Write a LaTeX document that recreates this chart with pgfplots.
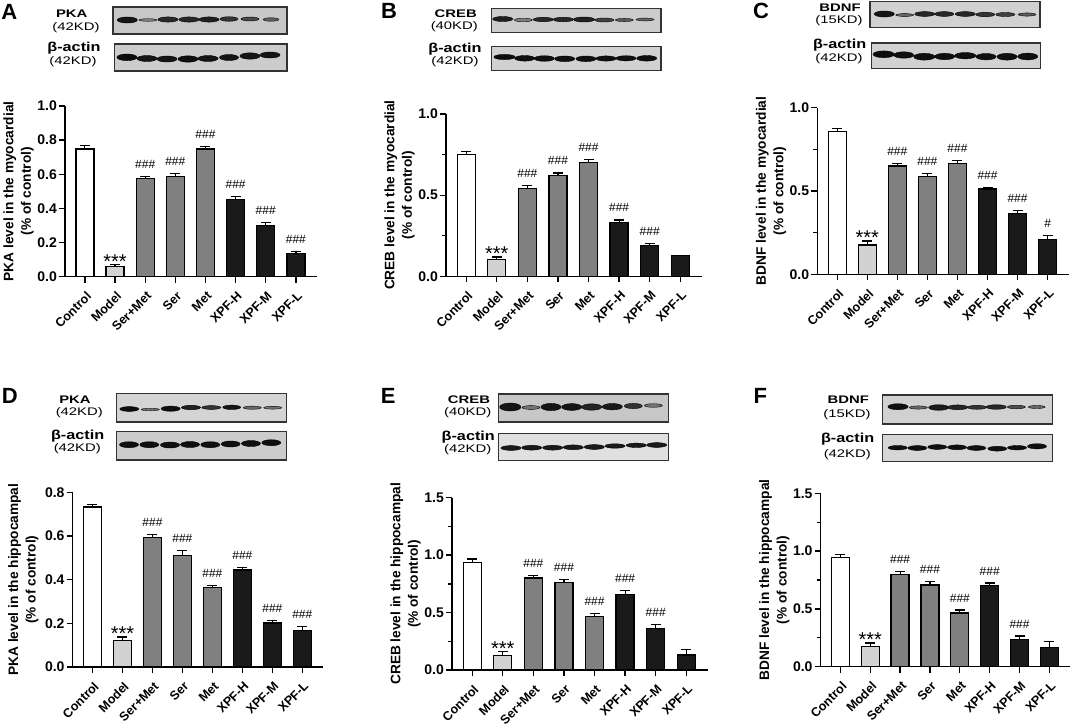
\documentclass[border=0pt]{standalone}
\usepackage{fontspec}
\setmainfont{Liberation Sans}
\usepackage{pgfplots}
\usepackage{pgfplotstable}
\pgfplotsset{compat=1.18}

\definecolor{lgray}{HTML}{D2D2D2}
\definecolor{mgray}{HTML}{808080}
\definecolor{dgray}{HTML}{1A1A1A}

% significance labels, picked by the lab column
\def\labN{}
\def\labH{{\fontsize{12}{12}\selectfont\#\#\#}}
\def\labO{{\fontsize{12}{12}\selectfont\#}}
\def\labS{\raisebox{-11.7pt}{\fontsize{20}{20}\selectfont ***}}

\pgfplotstableread{
x y top lab
0 0.748 0.768 N
1 0.059 0.072 S
2 0.574 0.586 H
3 0.586 0.604 H
4 0.748 0.764 H
5 0.453 0.469 H
6 0.300 0.316 H
7 0.135 0.146 H
}\tabA
\pgfplotstableread{
x y top lab
0 0.752 0.768 N
1 0.105 0.119 S
2 0.540 0.559 H
3 0.620 0.637 H
4 0.700 0.721 H
5 0.333 0.347 H
6 0.191 0.201 H
7 0.129 0.129 N
}\tabB
\pgfplotstableread{
x y top lab
0 0.856 0.874 N
1 0.176 0.200 S
2 0.650 0.666 H
3 0.588 0.606 H
4 0.664 0.682 H
5 0.512 0.522 H
6 0.364 0.382 H
7 0.210 0.234 O
}\tabC
\pgfplotstableread{
x y top lab
0 0.733 0.745 N
1 0.121 0.137 S
2 0.594 0.608 H
3 0.511 0.533 H
4 0.365 0.374 H
5 0.444 0.456 H
6 0.202 0.212 H
7 0.168 0.186 H
}\tabD
\pgfplotstableread{
x y top lab
0 0.934 0.966 N
1 0.125 0.160 S
2 0.800 0.824 H
3 0.760 0.786 H
4 0.467 0.493 H
5 0.656 0.690 H
6 0.363 0.395 H
7 0.130 0.177 N
}\tabE
\pgfplotstableread{
x y top lab
0 0.946 0.969 N
1 0.173 0.205 S
2 0.800 0.822 H
3 0.707 0.735 H
4 0.464 0.490 H
5 0.704 0.724 H
6 0.237 0.265 H
7 0.164 0.216 N
}\tabF

\newcommand\bars[3]{
\addplot[ybar,bar width=18pt,bar shift=0pt,draw=black,line width=1.3pt,fill=#2,
  restrict x to domain=#1,
  error bars/y dir=plus,error bars/y explicit,
  error bars/error bar style={line width=1.2pt,black},
  error bars/error mark options={rotate=90,mark size=5pt,line width=1.2pt,black}]
  table[x=x,y=y,y error expr=\thisrow{top}-\thisrow{y}]{#3};
}

% \panel{left}{right}{top}{bottom}{axis options}{table}, all in pixels of the reference
\newcommand\panel[6]{
\pgfmathsetmacro\awid{#2-#1}
\pgfmathsetmacro\ahei{#4-#3}
\begin{axis}[
    at={(#1pt,-#4pt)},anchor=south west,
    scale only axis,width=\awid pt,height=\ahei pt,
    axis lines*=left,
    axis line style={line width=1.3pt},
    tick style={black,line width=1.3pt},
    tick align=outside,
    major tick length=6pt,minor tick length=4pt,
    xmin=-0.66,xmax=7.7,ymin=0,
    xtick={0,...,7},
    xticklabels={Control,Model,Ser+Met,Ser,Met,XPF-H,XPF-M,XPF-L},
    tick label style={font=\fontsize{14}{14}\selectfont\bfseries},
    xticklabel style={font=\fontsize{12.6}{12.6}\selectfont\bfseries,
      rotate=45,anchor=north east,inner sep=2pt,xshift=-3pt,yshift=-4pt},
    yticklabel style={/pgf/number format/fixed,/pgf/number format/fixed zerofill,
      /pgf/number format/precision=1,/pgf/number format/assume math mode=true,inner sep=2pt},
    ylabel style={align=center,font=\fontsize{13.7}{17.5}\selectfont\bfseries},
    ylabel shift=-2pt,
    clip=false,
    #5]
\bars{-0.5:0.5}{white}{#6}
\bars{0.5:1.5}{lgray}{#6}
\bars{1.5:4.5}{mgray}{#6}
\bars{4.5:7.5}{dgray}{#6}
\addplot[only marks,mark=none,point meta=explicit symbolic,
  nodes near coords={\csname lab\pgfplotspointmeta\endcsname},
  every node near coord/.append style={anchor=base,inner sep=0pt,yshift=8pt,text=black}]
  table[x=x,y=top,meta=lab]{#6};
\end{axis}
}

% \blot{left}{right}{top}{bottom}{background}{bands: x y grey halfheight halfwidth}
\newcommand\blot[6]{
\pgfmathsetmacro\awid{#2-#1}
\pgfmathsetmacro\ahei{#4-#3}
\begin{axis}[
    at={(#1pt,-#4pt)},anchor=south west,
    scale only axis,width=\awid pt,height=\ahei pt,
    xmin=#1,xmax=#2,ymin=#3,ymax=#4,y dir=reverse,
    xtick=\empty,ytick=\empty,
    axis line style={line width=1.3pt,black!80},
    axis background/.style={fill=#5},
    colormap={blot}{gray(0cm)=(0);gray(1cm)=(1)},
    point meta min=0,point meta max=1,
    clip=true]
\addplot[scatter,only marks,mark=*,point meta=explicit,
  scatter/use mapped color={draw=none,fill=mapped color},
  visualization depends on={\thisrow{h}\as\bh},
  visualization depends on={\thisrow{w}\as\bw},
  scatter/@pre marker code/.append style={/tikz/mark size=\bh,/tikz/xscale={1.12*\bw/\bh}}]
  table[x=x,y=y,meta=g,row sep=\\]{x y g h w\\#6};
\end{axis}
}

\newcommand\lab[4][1.35]{\node[inner sep=0pt,xscale=#1] at (#2pt,-#3pt) {#4};}
\newcommand\kd[3]{\lab{#1}{#2}{\fontsize{11}{11}\selectfont #3}}
\newcommand\pname[3]{\lab{#1}{#2}{\fontsize{11}{11}\selectfont\bfseries #3}}
\newcommand\actin[2]{\lab[1.25]{#1}{#2}{\fontsize{13}{13}\selectfont\bfseries β-actin}}
\newcommand\letter[3]{\node[inner sep=0pt] at (#1pt,-#2pt) {\fontsize{22}{22}\selectfont\bfseries #3};}

\begin{document}
\begin{tikzpicture}
\path[use as bounding box] (0pt,-724pt) rectangle (1072pt,0pt);

% bar panels
\panel{65}{317}{106}{276.7}{ymax=1,ytick={0,0.2,...,1.0},
  ylabel={PKA level in the myocardial\\(\% of control)}}{\tabA}
\panel{446}{701.7}{114}{276.3}{ymax=1,ytick={0,0.5,1},minor ytick={0.25,0.75},
  ylabel={CREB level in the myocardial\\(\% of control)}}{\tabB}
\panel{817.3}{1068.7}{107.7}{274.3}{ymax=1,ytick={0,0.5,1},minor ytick={0.25,0.75},
  ylabel={BDNF level in the myocardial\\(\% of control)}}{\tabC}
\panel{72.7}{323.3}{492.3}{667}{ymax=0.8,ytick={0,0.2,0.4,0.6,0.8},ylabel shift=1pt,
  ylabel={PKA level in the hippocampal\\(\% of control)}}{\tabD}
\panel{452}{707.7}{497.7}{670}{ymax=1.5,ytick={0,0.5,1,1.5},minor ytick={0.25,0.75,1.25},
  ylabel={CREB level in the hippocampal\\(\% of control)}}{\tabE}
\panel{820.7}{1070.3}{493.3}{666.7}{ymax=1.5,ytick={0,0.5,1,1.5},minor ytick={0.25,0.75,1.25},
  ylabel={BDNF level in the hippocampal\\(\% of control)}}{\tabF}

% blots
\blot{113}{287}{7}{34}{black!22}{127.3 20 .08 3 9\\148 20 .5 1.3 8\\168 19.5 .15 2.6 9\\189 19.5 .15 2.6 9\\209 19.5 .12 2.6 9\\229 19 .2 2.3 8\\250 19 .28 2 8\\271 19.5 .38 1.7 7\\}
\blot{114.7}{287}{44}{71}{black!20}{127 57.3 .05 3.3 9\\147 58.5 .08 3 9\\167 59 .08 3 9\\188 59 .06 3.2 9\\208 58.5 .08 3 9\\229 57.5 .08 3 8.5\\250 56 .08 3.2 9\\270 55 .08 3 9\\}
\blot{491.3}{661}{8.3}{32.7}{black!20}{502.7 19 .12 2.5 9\\523.3 20 .5 1.8 8\\543.3 19.5 .15 2.2 9\\563.3 19.5 .15 2.3 9\\584 19.5 .12 2.5 9.5\\604.3 20 .25 2 8.5\\624.3 20 .35 1.6 8\\645 19.5 .4 1.4 8\\}
\blot{491.3}{661}{46.7}{70.7}{black!18}{504.5 57 .05 2.6 9.5\\524.7 58.3 .06 2.8 9\\544.3 58.5 .06 2.8 9\\564.7 58.8 .06 2.8 9\\586 58.8 .06 2.8 9\\606 58.5 .06 2.6 9\\626 58.3 .06 2.6 9\\646.7 58.3 .06 2.8 9\\}
\blot{870}{1040}{1.3}{27.3}{black!18}{884.3 14 .08 3 9\\904.7 15 .4 1.4 8\\924.7 14 .15 2.4 9\\944.3 14 .15 2.4 8.5\\965.3 14 .15 2.4 9\\985.3 14.5 .2 2.2 8.5\\1005.3 14.5 .25 2 8.5\\1027 14.5 .35 1.6 8\\}
\blot{871.7}{1040.7}{43}{68.7}{black!18}{883.7 54.3 .05 3.4 9.5\\903.7 55 .06 3.2 9\\924.3 56.7 .06 3.4 9.5\\944.7 56.5 .06 3.2 9\\965.3 55.7 .06 3.2 9.5\\986 56.7 .06 3.2 9\\1007 56.7 .06 3.4 9\\1027.7 56.5 .06 3.4 9\\}
\blot{116.3}{286.7}{393.7}{422}{black!17}{129.3 409 .05 2.4 8.5\\150.3 409.5 .45 1.3 8\\170.7 408.7 .06 2.6 8.5\\191 407.5 .12 2.2 8.5\\211.3 407.5 .2 1.9 8.5\\231.7 407.3 .08 2.2 8\\252.3 407.7 .4 1.6 8\\272.7 407.7 .45 1.4 8\\}
\blot{116.3}{286.7}{431.3}{460}{black!20}{129 444.7 .06 3 8.5\\149.3 444.7 .06 3 8.5\\170 445 .06 3 8.5\\190 444.5 .06 3 8.5\\210.3 444.7 .06 3 8.5\\230.7 444 .06 3 8.5\\251 443.5 .06 3 8.5\\271.3 442.7 .06 3 8.5\\}
\blot{498.3}{668.3}{394}{422}{black!22}{510.3 407 .08 4 9.5\\531 407.5 .45 1.9 8\\551 407 .08 3.6 9\\571.7 407 .08 3.4 9\\591.7 407 .14 3.2 9\\612.3 406.7 .1 3.2 9\\633.3 406 .2 2.6 8\\653.3 405.5 .45 1.8 8\\}
\blot{498.3}{668.3}{433.3}{460.3}{black!12}{511 448 .1 2.4 9\\531.7 447.7 .1 2.4 9\\552.7 447.7 .1 2.4 9\\573.3 447.3 .1 2.4 9\\594.3 447 .1 2.4 9\\615 446 .1 2.2 9\\636.3 445.3 .1 2.2 9\\656.7 445 .1 2.4 9\\}
\blot{882.3}{1052.7}{395}{424}{black!18}{898 406.7 .06 3 9\\918.3 407.5 .4 1.6 8\\938.7 407.5 .1 2.8 9\\957.7 407.3 .14 2.4 9\\977 407.3 .2 2 8.5\\996.3 407 .15 2.3 9\\1016.3 407 .3 1.8 8\\1036.7 407 .4 1.5 7.5\\}
\blot{882.3}{1052.7}{434.3}{461.7}{black!16}{897.7 447.7 .06 2.2 8.5\\917.3 448 .06 2.4 8.5\\937.3 447 .06 2.4 8.5\\957 447.3 .06 2.4 8.5\\976.3 448 .06 2.4 8.5\\997.3 448.7 .06 2.4 8.5\\1017 447.7 .06 2.2 8.5\\1037 446.3 .06 2.6 8.5\\}

% blot names
\pname{71.7}{13.3}{PKA}\kd{76}{27.3}{(42KD)}\actin{74}{47.7}\kd{73}{61.7}{(42KD)}
\pname{455.7}{14}{CREB}\kd{454.3}{26.7}{(40KD)}\actin{455}{49}\kd{455}{62}{(42KD)}
\pname{840}{7.3}{BDNF}\kd{839}{20.7}{(15KD)}\actin{839.7}{44.7}\kd{839}{58.7}{(42KD)}
\pname{75}{400}{PKA}\kd{79.3}{412.3}{(42KD)}\actin{77.7}{435.7}\kd{77.3}{448.3}{(42KD)}
\pname{469}{399.3}{CREB}\kd{467.7}{412.7}{(40KD)}\actin{468.3}{436.7}\kd{467.7}{450}{(42KD)}
\pname{848.3}{400}{BDNF}\kd{847}{414.3}{(15KD)}\actin{847.7}{439.3}\kd{847.3}{455}{(42KD)}

% panel letters
\letter{9.3}{11.7}{A}\letter{389}{10.7}{B}\letter{761}{10.7}{C}
\letter{9.7}{396}{D}\letter{388.3}{396}{E}\letter{760.3}{396}{F}
\end{tikzpicture}
\end{document}
